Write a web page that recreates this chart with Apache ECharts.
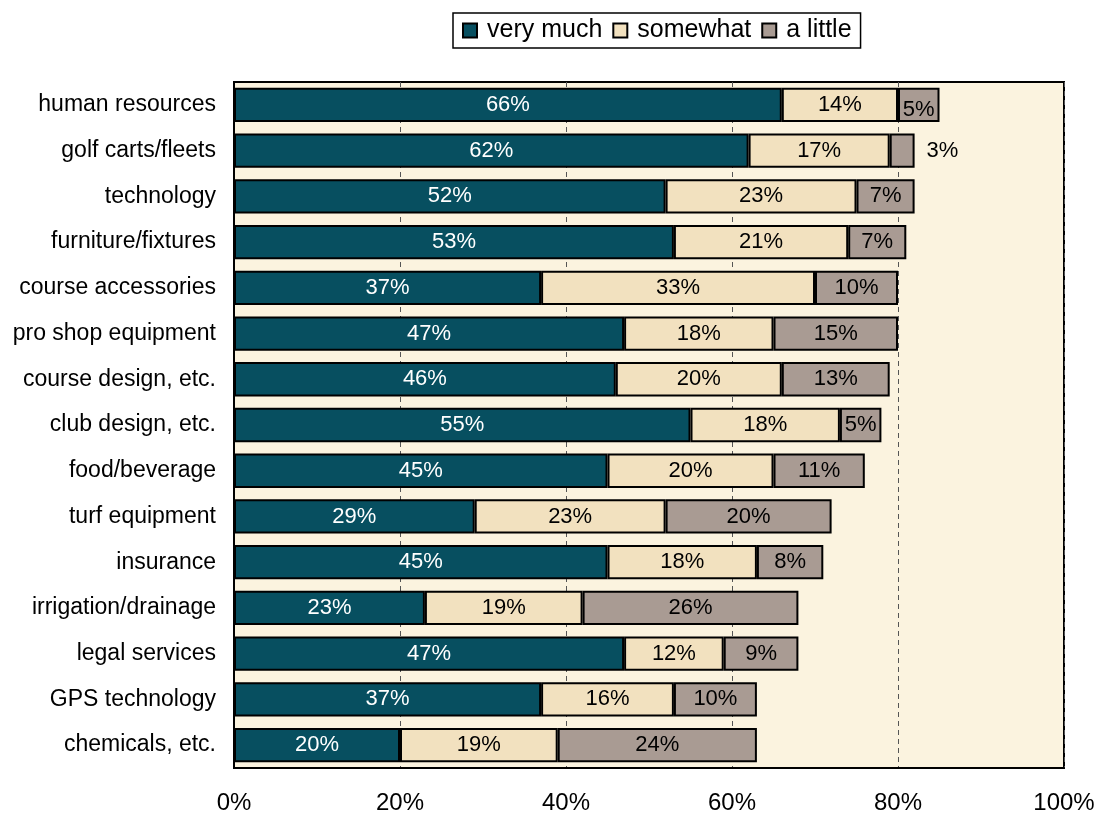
<!DOCTYPE html>
<html>
<head>
<meta charset="utf-8">
<title>stacked bars</title>
<script src="https://cdn.jsdelivr.net/npm/echarts@6/dist/echarts.min.js"></script>
<style>
  html,body{height:100%;margin:0;padding:0;background:#fff;}
</style>
</head>
<body>
<div id="main" style="width:1100px;height:815px;"></div>
<script type="text/javascript">
var categories = ['human resources','golf carts/fleets','technology','furniture/fixtures','course accessories',
  'pro shop equipment','course design, etc.','club design, etc.','food/beverage','turf equipment',
  'insurance','irrigation/drainage','legal services','GPS technology','chemicals, etc.'];
var veryMuch = [66,62,52,53,37,47,46,55,45,29,45,23,47,37,20];
var somewhat = [14,17,23,21,33,18,20,18,20,23,18,19,12,16,19];
var aLittle  = [5,3,7,7,10,15,13,5,11,20,8,26,9,10,24];

var font = 'Liberation Sans, Arial, sans-serif';
var myChart = echarts.init(document.getElementById('main'));

function seg(name, data, color, textColor){
  return {
    name: name,
    type: 'bar',
    stack: 'all',
    barCategoryGap: '25%',
    data: data,
    itemStyle: { color: color, borderColor: '#000', borderWidth: 2 },
    label: {
      show: true, position: 'inside', formatter: '{c}%',
      color: textColor, fontFamily: font, fontSize: 22
    }
  };
}

// two small labels sit off-centre in the original
var littleSeries = seg('a little', aLittle.map(function(v, i){
  if(i === 0) return { value: v, label: { offset: [0, 5] } };
  if(i === 1) return { value: v, label: { position: 'right', distance: 12 } };
  return v;
}), '#a99b93', '#000');

var option = {
  animation: false,
  textStyle: { fontFamily: font },
  legend: {
    top: 13,
    left: 453,
    data: ['very much','somewhat','a little'],
    icon: 'rect',
    itemWidth: 14,
    itemHeight: 14,
    itemGap: 10,
    padding: [5, 9, 5, 9],
    borderColor: '#000',
    borderWidth: 1.5,
    backgroundColor: '#fff',
    textStyle: { fontSize: 25, color: '#000', fontFamily: font, padding: [0, 0, 0, 5] },
    itemStyle: { borderColor: '#000', borderWidth: 2 }
  },
  grid: {
    left: 234, right: 36, top: 82, bottom: 47,
    show: true, backgroundColor: '#fbf3df', borderColor: '#000', borderWidth: 2
  },
  xAxis: {
    type: 'value', min: 0, max: 100, interval: 20,
    axisLine: { show: true, lineStyle: { color: '#000', width: 2 } },
    axisTick: { show: false },
    axisLabel: { formatter: '{value}%', fontSize: 24, color: '#000', margin: 23, fontFamily: font },
    splitLine: { show: true, lineStyle: { type: [5, 4], color: '#555', width: 1 } }
  },
  yAxis: {
    type: 'category', data: categories, inverse: true,
    axisLine: { show: true, lineStyle: { color: '#000', width: 2 } },
    axisTick: { show: false },
    axisLabel: { fontSize: 23, color: '#000', margin: 18, fontFamily: font }
  },
  series: [
    seg('very much', veryMuch, '#074f60', '#fff'),
    seg('somewhat', somewhat, '#f2e1bf', '#000'),
    littleSeries
  ]
};
myChart.setOption(option);
</script>
</body>
</html>
